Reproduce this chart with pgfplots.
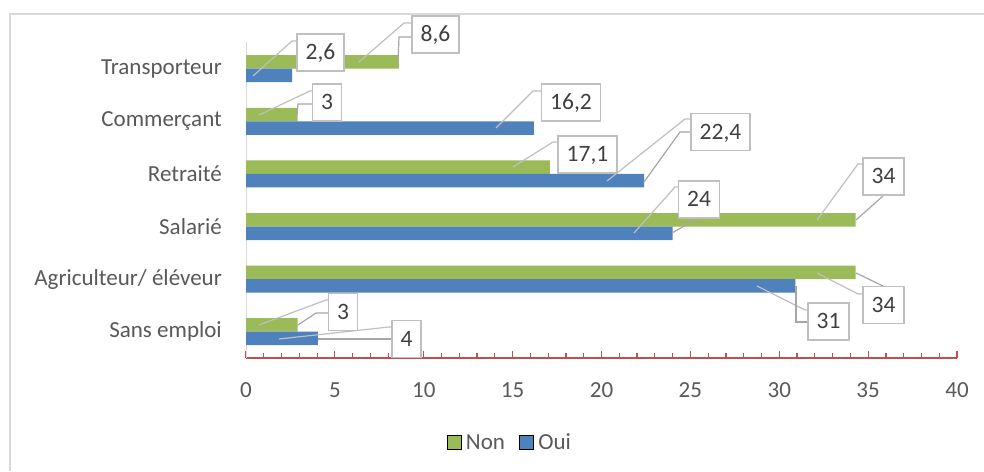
\documentclass[border=0pt]{standalone}
\usepackage{fontspec}
\setmainfont{Carlito}
\usepackage{pgfplots}
\pgfplotsset{compat=1.18}
\definecolor{nongreen}{HTML}{9BBB59}
\definecolor{ouiblue}{HTML}{4F81BD}
\definecolor{axred}{HTML}{C0504D}
\definecolor{txt}{HTML}{595959}
\definecolor{lbl}{HTML}{404040}
\definecolor{framec}{HTML}{D9D9D9}
\definecolor{lead}{HTML}{BFBFBF}
\definecolor{leaddark}{HTML}{A6A6A6}
\tikzset{
  lt/.style={lead, line width=1.2pt},
  dk/.style={leaddark, line width=1.2pt},
  dl/.style={draw=lead, line width=1.5pt, fill=white, text=lbl,
    font=\fontsize{23.5}{28}\selectfont, inner xsep=8.5pt, inner ysep=0pt,
    minimum height=37pt, text height=15pt, text depth=0pt}
}
\begin{document}
\begin{tikzpicture}
\useasboundingbox (0,0) rectangle (984pt,471pt);
\fill[white] (0,0) rectangle (984pt,471pt);
\draw[framec, line width=1.3pt] (10pt,0pt) -- (10pt,457pt) -- (984pt,457pt);
\begin{axis}[
  at={(246pt,113pt)}, anchor=south west,
  scale only axis, width=711pt, height=315.6pt,
  xmin=0, xmax=40, ymin=-0.5, ymax=5.5,
  axis x line*=bottom, axis y line*=left,
  x axis line style={axred, line width=1.6pt},
  y axis line style={framec, line width=1pt},
  xtick={0,5,...,40}, minor x tick num=4,
  tick align=inside,
  major tick length=7pt, minor tick length=5pt,
  xtick style={axred, line width=1.2pt},
  ytick={0,...,5},
  yticklabels={Sans emploi, Agriculteur/ éléveur, Salarié, Retraité, Commerçant, Transporteur},
  ytick style={draw=none},
  /pgf/number format/assume math mode=true,
  xticklabel style={font=\fontsize{23}{28}\selectfont, text=txt, anchor=base, yshift=-39pt},
  yticklabel style={font=\fontsize{23}{28}\selectfont, text=txt, anchor=east, inner sep=0pt, xshift=-24pt},
  legend style={at={(0.371,-0.268)}, anchor=center, draw=none, fill=none,
    legend columns=2, font=\fontsize{23}{28}\selectfont, text=txt,
    nodes={inner xsep=2pt, inner ysep=1pt},
    /tikz/every odd column/.append style={column sep=3pt},
    /tikz/every even column/.append style={column sep=12pt}},
  legend image code/.code={\draw[#1] (0pt,-7pt) rectangle (14pt,7pt);},
]
\addplot[xbar, bar width=13.5pt, bar shift=6.75pt, fill=nongreen, draw=none]
  coordinates {(2.9,0) (34.3,1) (34.3,2) (17.1,3) (2.9,4) (8.6,5)};
\addlegendentry{Non}
\addplot[xbar, bar width=13.5pt, bar shift=-6.75pt, fill=ouiblue, draw=none]
  coordinates {(4.05,0) (30.9,1) (24,2) (22.4,3) (16.2,4) (2.6,5)};
\addlegendentry{Oui}
\end{axis}
\begin{scope}[x=1pt, y=-1pt, shift={(0,471pt)}]
% leader lines
\draw[lt] (253,76) -- (292,41) -- (297,41);
\draw[lt] (359,62) -- (404,23) -- (412,23);
\draw[dk] (398,62) -- (399,37) -- (412,37);
\draw[lt] (259,115) -- (310,91) -- (313,91);
\draw[dk] (297,115) -- (298,104) -- (313,104);
\draw[lt] (496,128) -- (533,91) -- (542,91);
\draw[lt] (513,167) -- (553,142) -- (558,142);
\draw[lt] (607,181) -- (685,119) -- (691,119);
\draw[dk] (644,182) -- (680,132) -- (691,132);
\draw[lt] (634,233) -- (675,187) -- (679,187);
\draw[dk] (672,233) -- (698,218);
\draw[lt] (817,220) -- (858,164) -- (863,164);
\draw[dk] (856,220) -- (883,196);
\draw[lt] (817,273) -- (858,294) -- (863,294);
\draw[dk] (856,273) -- (883,286);
\draw[lt] (757,286) -- (805,310) -- (808,310);
\draw[dk] (796,286) -- (796,322) -- (808,322);
\draw[lt] (259,325) -- (326,300) -- (329,300);
\draw[dk] (298,325) -- (316,313) -- (329,313);
\draw[lt] (279,339) -- (389,327) -- (392,327);
\draw[dk] (318,339) -- (392,339);
% labels
\node[dl] at (320.5,52.5) {2,6};
\node[dl] at (435.5,34.5) {8,6};
\node[dl] at (327,102.5) {3};
\node[dl] at (571,102.5) {16,2};
\node[dl] at (587.5,154.5) {17,1};
\node[dl] at (720.5,132) {22,4};
\node[dl] at (699,199.5) {24};
\node[dl] at (883.5,176.5) {34};
\node[dl] at (883.5,305) {34};
\node[dl] at (828.5,321.5) {31};
\node[dl] at (343,312) {3};
\node[dl] at (406.5,339) {4};
\end{scope}
\end{tikzpicture}
\end{document}
